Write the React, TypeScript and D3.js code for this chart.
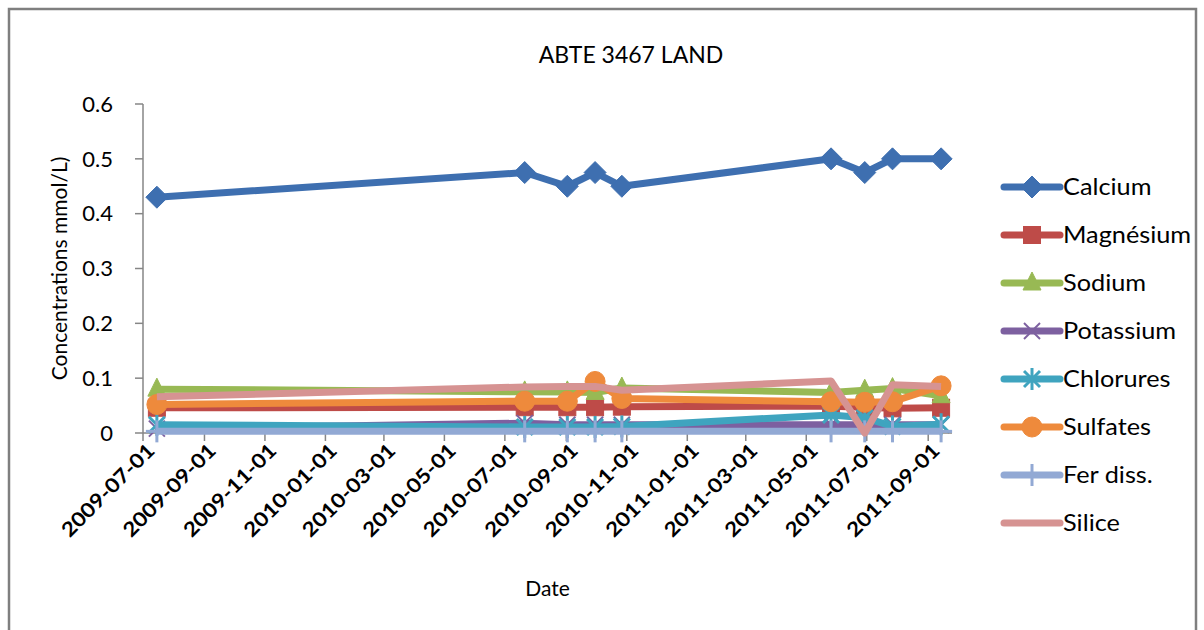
import React from "react";
import * as d3 from "d3";

const dates = ["2009-07-15", "2010-07-21", "2010-09-02", "2010-09-30", "2010-10-27", "2011-05-26", "2011-06-29", "2011-07-27", "2011-09-14"];
const calcium = [0.43, 0.475, 0.45, 0.475, 0.45, 0.5, 0.475, 0.5, 0.5];
const magnesium = [0.046, 0.047, 0.047, 0.047, 0.048, 0.049, 0.047, 0.045, 0.046];
const sodium = [0.08, 0.075, 0.075, 0.074, 0.082, 0.074, 0.078, 0.081, 0.068];
const potassium = [0.008, 0.018, 0.015, 0.015, 0.015, 0.015, 0.015, 0.015, 0.015];
const chlorures = [0.015, 0.011, 0.011, 0.011, 0.012, 0.033, 0.028, 0.012, 0.016];
const sulfates = [0.052, 0.058, 0.058, 0.094, 0.063, 0.057, 0.056, 0.057, 0.086];
const ferDiss = [0.003, 0.003, 0.003, 0.003, 0.003, 0.003, 0.003, 0.003, 0.003];
const silice = [0.066, 0.084, 0.085, 0.085, 0.078, 0.095, 0.0, 0.088, 0.085];

const seriesNames = ["Calcium", "Magnésium", "Sodium", "Potassium", "Chlorures", "Sulfates", "Fer diss.", "Silice"];
const seriesValues = [calcium, magnesium, sodium, potassium, chlorures, sulfates, ferDiss, silice];
const seriesColors = ["#3e6fb0", "#be4b48", "#98b954", "#7d60a0", "#3fa4bf", "#ee8a3c", "#92a9d4", "#d69392"];
const seriesMarkers = ["diamond", "square", "triangle", "x", "star", "circle", "plus", "none"];

const xTickLabels = ["2009-07-01", "2009-09-01", "2009-11-01", "2010-01-01", "2010-03-01", "2010-05-01", "2010-07-01", "2010-09-01", "2010-11-01", "2011-01-01", "2011-03-01", "2011-05-01", "2011-07-01", "2011-09-01"];
const yTicks = [0, 0.1, 0.2, 0.3, 0.4, 0.5, 0.6];

const FONT = "Lato, 'Open Sans', 'DejaVu Sans', sans-serif";

function Marker({ type, x, y, color }: { type: string; x: number; y: number; color: string }) {
  const s = 11;
  switch (type) {
    case "diamond":
      return <path d={`M${x},${y - s} L${x + s},${y} L${x},${y + s} L${x - s},${y} Z`} fill={color} stroke={color} strokeWidth={1} />;
    case "square":
      return <rect x={x - 8.5} y={y - 8.5} width={17} height={17} fill={color} stroke={color} />;
    case "triangle":
      return <path d={`M${x},${y - 11} L${x + 9},${y + 7} L${x - 9},${y + 7} Z`} fill={color} stroke={color} />;
    case "x":
      return (
        <g stroke={color} strokeWidth={2}>
          <line x1={x - 8} y1={y - 8} x2={x + 8} y2={y + 8} />
          <line x1={x - 8} y1={y + 8} x2={x + 8} y2={y - 8} />
        </g>
      );
    case "star":
      return (
        <g stroke={color} strokeWidth={3}>
          <line x1={x - 8} y1={y - 8} x2={x + 8} y2={y + 8} />
          <line x1={x - 8} y1={y + 8} x2={x + 8} y2={y - 8} />
          <line x1={x} y1={y - 11} x2={x} y2={y + 11} />
        </g>
      );
    case "circle":
      return <circle cx={x} cy={y} r={10} fill={color} stroke={color} />;
    case "plus":
      return (
        <g stroke={color} strokeWidth={3}>
          <line x1={x} y1={y - 11} x2={x} y2={y + 11} />
          <line x1={x - 11} y1={y} x2={x + 11} y2={y} />
        </g>
      );
    default:
      return null;
  }
}

export default function App() {
  const W = 1204;
  const H = 630;
  const left = 143, right = 952, top = 104, bottom = 433;
  const parse = d3.utcParse("%Y-%m-%d");
  const x = d3.scaleUtc().domain([parse("2009-07-01")!, parse("2011-09-25")!]).range([left, right]);
  const y = d3.scaleLinear().domain([0, 0.6]).range([bottom, top]);
  const line = d3
    .line<[Date, number]>()
    .x((d) => x(d[0]))
    .y((d) => y(d[1]));
  const dts = dates.map((d) => parse(d)!);

  return (
    <svg width={W} height={H} style={{ position: "absolute", left: 0, top: 0, background: "#fff" }} fontFamily={FONT}>
      <rect x={0} y={0} width={W} height={H} fill="#fff" />
      <rect x={9} y={9} width={1187} height={640} fill="none" stroke="#7f7f7f" strokeWidth={2.5} />
      <text x={631} y={63} textAnchor="middle" fontSize={23} fill="#000">
        ABTE 3467 LAND
      </text>

      {/* Y axis */}
      <line x1={left} y1={top} x2={left} y2={bottom} stroke="#868686" strokeWidth={1.5} />
      {yTicks.map((t) => (
        <g key={t}>
          <line x1={left - 8} x2={left} y1={y(t)} y2={y(t)} stroke="#868686" strokeWidth={1.5} />
          <text x={113} y={y(t)} dy="0.35em" textAnchor="end" fontSize={22} fill="#000">
            {t === 0 ? "0" : t.toFixed(1)}
          </text>
        </g>
      ))}
      <text transform={`translate(60,${(top + bottom) / 2}) rotate(-90)`} textAnchor="middle" dy="0.35em" fontSize={21} fill="#000">
        Concentrations mmol/L)
      </text>

      {/* X axis */}
      <line x1={left} y1={bottom} x2={right} y2={bottom} stroke="#868686" strokeWidth={1.5} />
      {xTickLabels.map((l) => {
        const tx = x(parse(l)!);
        return (
          <g key={l}>
            <line x1={tx} x2={tx} y1={bottom} y2={bottom + 8} stroke="#868686" strokeWidth={1.5} />
            <text
              transform={`translate(${tx + 8},${bottom + 14}) rotate(-45)`}
              textAnchor="end"
              dy="0.35em"
              fontSize={20}
              fontWeight="bold"
              textLength={122}
              lengthAdjust="spacingAndGlyphs"
              fill="#000"
            >
              {l}
            </text>
          </g>
        );
      })}
      <text x={(left + right) / 2} y={596} textAnchor="middle" fontSize={21} fill="#000">
        Date
      </text>

      {/* Series */}
      {seriesValues.map((vals, i) => {
        const pts = vals.map((v, j) => [dts[j], v] as [Date, number]);
        return (
          <g key={seriesNames[i]}>
            <path d={line(pts)!} fill="none" stroke={seriesColors[i]} strokeWidth={7} strokeLinejoin="round" />
            {pts.map((p, j) => (
              <Marker key={j} type={seriesMarkers[i]} x={x(p[0])} y={y(p[1])} color={seriesColors[i]} />
            ))}
          </g>
        );
      })}

      {/* Legend */}
      {seriesNames.map((n, i) => {
        const ly = 187 + i * 48;
        return (
          <g key={n}>
            <line x1={1004} x2={1060} y1={ly} y2={ly} stroke={seriesColors[i]} strokeWidth={7} strokeLinecap="round" />
            <Marker type={seriesMarkers[i]} x={1032} y={ly} color={seriesColors[i]} />
            <text transform={`translate(1063,${ly}) scale(1.1,1)`} dy="0.35em" fontSize={23} fill="#000">
              {n}
            </text>
          </g>
        );
      })}
    </svg>
  );
}
